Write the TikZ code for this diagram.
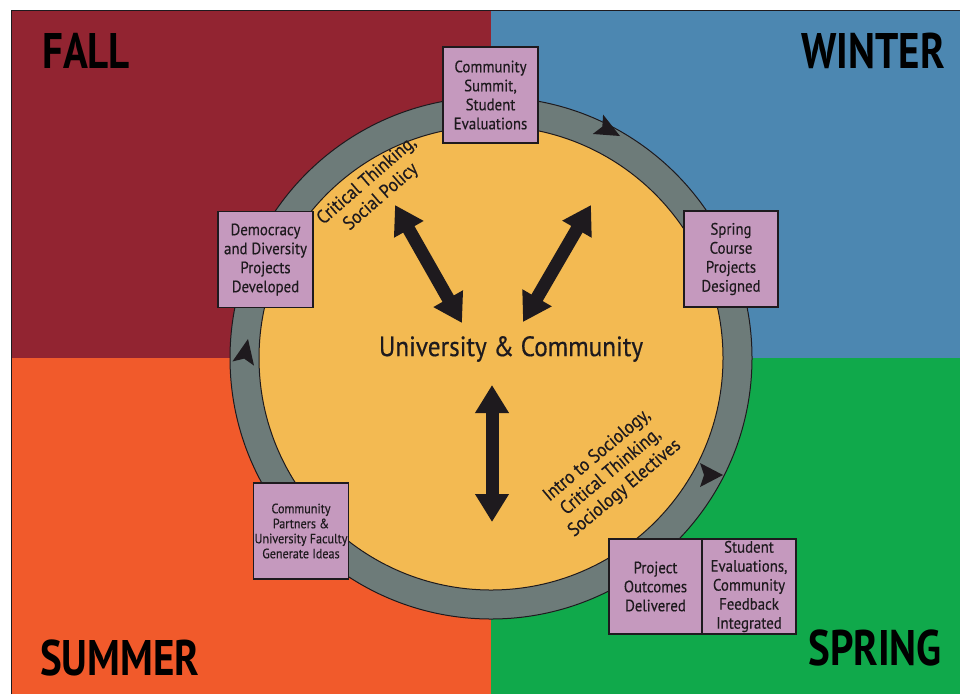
\documentclass[tikz,border=0pt]{standalone}
\usepackage{fontspec}
\setmainfont[FakeStretch=0.9,FakeBold=0.4]{PT Sans}
\newfontfamily\labfont[FakeStretch=0.82]{PT Sans}
\usetikzlibrary{arrows.meta}
\definecolor{fallc}{HTML}{922431}
\definecolor{winterc}{HTML}{4C87B1}
\definecolor{summerc}{HTML}{F15A2B}
\definecolor{springc}{HTML}{10A94B}
\definecolor{yellowc}{HTML}{F3BA52}
\definecolor{ringc}{HTML}{6D7B79}
\definecolor{boxc}{HTML}{C599BE}
\definecolor{inkc}{HTML}{1E1A1E}
\tikzset{
  stagebox/.style={draw=inkc, line width=1.2pt, fill=boxc, minimum width=94pt, minimum height=96pt,
    align=center, inner sep=1pt, text=inkc, font=\fontsize{16.5}{19}\selectfont},
  season/.style={font=\labfont\bfseries\fontsize{50}{50}\selectfont, text=black, inner sep=0pt},
  bigarrow/.style={line width=13pt, {Triangle[width=32pt,length=28pt]}-{Triangle[width=32pt,length=28pt]}},
  topic/.style={align=center, text=inkc, font=\fontsize{19}{21.5}\selectfont},
  ringtip/.style={fill=inkc}
}
\begin{document}
\begin{tikzpicture}[x=1pt,y=-1pt]
\useasboundingbox (0,0) rectangle (960,694);
\fill[white] (0,0) rectangle (960,694);
% quadrants
\fill[fallc] (11,10) rectangle (491,358);
\fill[winterc] (491,10) rectangle (960,358);
\fill[summerc] (11,358) rectangle (491,694);
\fill[springc] (491,358) rectangle (960,694);
\draw[line width=1pt, inkc] (11,694) -- (11,10) -- (960,10);
% season labels
\node[season, anchor=base west] (fall) at (42,68) {FALL};
\node[season, anchor=base east] (winter) at (945,68) {WINTER};
\node[season, anchor=base west] (summer) at (40,675) {SUMMER};
\node[season, anchor=base east] (spring) at (942,665) {SPRING};
% ring and disc
\coordinate (ctr) at (491,358);
\filldraw[fill=ringc, draw=inkc, line width=1pt] (ctr) circle[radius=261pt];
\filldraw[fill=yellowc, draw=inkc, line width=1pt] (ctr) circle[radius=232pt];
% ring arrowheads
\fill[ringtip, shift={(620,136)}, rotate=-28] (0,0) -- (-25,-11) -- (-20,0) -- (-25,11) -- cycle;
\fill[ringtip, shift={(723,475)}, rotate=0] (0,0) -- (-23,-12) -- (-19,0) -- (-23,12) -- cycle;
\fill[ringtip, shift={(248,339)}, rotate=79] (0,0) -- (-25,-11) -- (-20,0) -- (-25,11) -- cycle;
% centre
\node[text=inkc, font=\fontsize{28}{28}\selectfont] (uc) at (511,349) {University \& Community};
% big arrows
\coordinate (a1s) at (395,205);
\coordinate (a1e) at (462,323);
\coordinate (a2s) at (591,205);
\coordinate (a2e) at (523,322);
\coordinate (a3s) at (492,385);
\coordinate (a3e) at (492,522);
\draw[bigarrow, inkc] (a1s) -- (a1e);
\draw[bigarrow, inkc] (a2s) -- (a2e);
\draw[bigarrow, inkc] (a3s) -- (a3e);
% topic labels
\node[topic, rotate=41] (ctsp) at (374,189) {Critical Thinking,\\Social Policy};
\node[topic, rotate=40] (intro) at (611,472) {Intro to Sociology,\\Critical Thinking,\\Sociology Electives};
% stage boxes
\node[stagebox, minimum width=95pt] (summit) at (490.5,95) {Community\\Summit,\\Student\\Evaluations};
\node[stagebox, minimum width=95pt] (demo) at (265.5,259.5) {Democracy\\and Diversity\\Projects\\Developed};
\node[stagebox] (course) at (731,259) {Spring\\Course\\Projects\\Designed};
\node[stagebox, font=\fontsize{13.5}{15}\selectfont] (partners) at (301,531) {Community\\Partners \&\\University Faculty\\Generate Ideas};
\node[stagebox, minimum width=93pt, minimum height=95pt] (outcomes) at (655.5,586.5) {Project\\Outcomes\\Delivered};
\node[stagebox, minimum height=95pt, inner sep=0pt] (feedback) at (749,586.5) {Student\\Evaluations,\\Community\\Feedback\\Integrated};
\end{tikzpicture}
\end{document}
